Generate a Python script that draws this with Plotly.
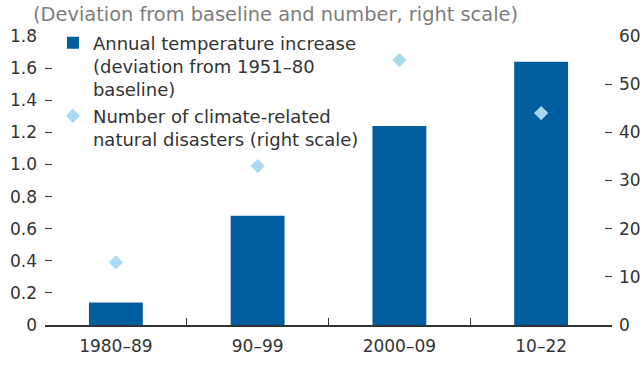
import plotly.graph_objects as go

# Decades on the x axis
periods = ["1980–89", "90–99", "2000–09", "10–22"]
# Temperature deviation from the 1951–80 baseline (°C, left scale)
temp_increase = [0.14, 0.68, 1.24, 1.64]
# Count of climate-related natural disasters (right scale)
disasters = [13, 33, 55, 44]

left_ticks = [0, 0.2, 0.4, 0.6, 0.8, 1.0, 1.2, 1.4, 1.6, 1.8]
left_labels = ["0", "0.2", "0.4", "0.6", "0.8", "1.0", "1.2", "1.4", "1.6", "1.8"]
right_ticks = [0, 10, 20, 30, 40, 50, 60]

BAR_BLUE = "#005e9e"
DIAMOND_BLUE = "#a9d9f3"
TEXT = "#333333"
FONT = "DejaVu Sans"

fig = go.Figure()

fig.add_trace(go.Bar(
    x=periods,
    y=temp_increase,
    name="Annual temperature increase<br>(deviation from 1951–80<br>baseline)",
    marker=dict(color=BAR_BLUE, line=dict(width=0)),
    width=0.38,
    yaxis="y",
))

fig.add_trace(go.Scatter(
    x=periods,
    y=disasters,
    name="Number of climate-related<br>natural disasters (right scale)",
    mode="markers",
    marker=dict(symbol="diamond", size=11, color=DIAMOND_BLUE),
    yaxis="y2",
))

fig.update_layout(
    width=643,
    height=379,
    margin=dict(l=45, r=31, t=36, b=54),
    paper_bgcolor="white",
    plot_bgcolor="white",
    font=dict(family=FONT, size=17, color=TEXT),
    title=dict(
        text="(Deviation from baseline and number, right scale)",
        xref="container", yref="container",
        x=33 / 643, xanchor="left",
        y=0.963, yanchor="middle",
        font=dict(family=FONT, size=19.4, color="#7d7d7d"),
    ),
    showlegend=True,
    legend=dict(
        x=0.014, xanchor="left",
        y=1.04, yanchor="top",
        bgcolor="rgba(0,0,0,0)",
        font=dict(family=FONT, size=18, color=TEXT),
        valign="top",
        tracegroupgap=0,
        itemclick=False,
    ),
    xaxis=dict(
        type="category",
        automargin=False,
        showline=True, linecolor=TEXT, linewidth=1.5,
        ticks="inside", tickson="boundaries", ticklen=7, tickcolor=TEXT, tickwidth=1.2,
        ticklabelstandoff=5,
        showgrid=False, zeroline=False,
        tickfont=dict(size=17, color=TEXT),
    ),
    yaxis=dict(
        range=[0, 1.8],
        automargin=False,
        tickvals=left_ticks, ticktext=left_labels,
        ticks="inside", ticklen=7, tickcolor=TEXT, tickwidth=1.2,
        ticklabelstandoff=7,
        showline=False, showgrid=False, zeroline=False,
        tickfont=dict(size=17, color=TEXT),
    ),
    yaxis2=dict(
        range=[0, 60],
        automargin=False,
        tickvals=right_ticks,
        overlaying="y", side="right",
        ticks="inside", ticklen=7, tickcolor=TEXT, tickwidth=1.2,
        ticklabelstandoff=6,
        showline=False, showgrid=False, zeroline=False,
        tickfont=dict(size=17, color=TEXT),
    ),
)

fig.write_html("out.html")
